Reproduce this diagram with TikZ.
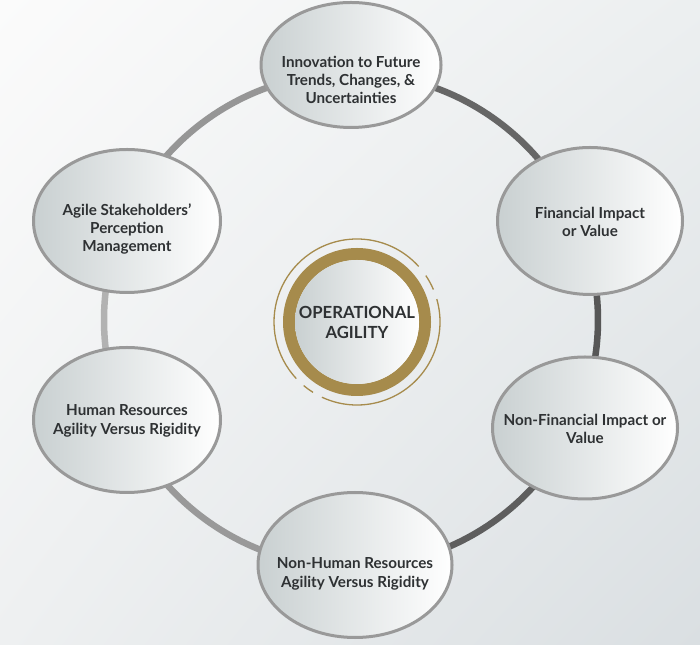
\documentclass[tikz,border=0pt]{standalone}
\usepackage{fontspec}
\setmainfont{Lato}
\usetikzlibrary{shapes.geometric,shadings}
\definecolor{gold}{HTML}{A68B4C}
\definecolor{txt}{HTML}{2E3133}
\definecolor{bubfill}{HTML}{C9D0D1}
\definecolor{bubedge}{HTML}{999999}
\definecolor{bgTL}{HTML}{FBFBFB}
\definecolor{bgTR}{HTML}{ECEFF0}
\definecolor{bgBL}{HTML}{EEF0F1}
\definecolor{bgBR}{HTML}{DADFE2}
\tikzset{
  bub/.style={ellipse, draw=bubedge, line width=3pt, left color=bubfill, right color=white, inner sep=0pt},
  bubtext/.style={align=center, inner sep=0pt, text=txt, font=\bfseries\fontsize{15.2}{18.4}\selectfont},
  ringseg/.style={line width=6.5pt},
  thingold/.style={draw=gold, line width=1.3pt}
}
\begin{document}
\begin{tikzpicture}[x=1pt,y=1pt]
\useasboundingbox (0,0) rectangle (700,644);
\shade[upper left=bgTL, upper right=bgTR, lower left=bgBL, lower right=bgBR] (0,0) rectangle (700,644);
% ring
\coordinate (rc) at (351,324);
\draw[ringseg, color=black!60] ([shift={(90:247)}]rc) arc[start angle=90, end angle=22.5, radius=247];
\draw[ringseg, color=black!66] ([shift={(22.5:247)}]rc) arc[start angle=22.5, end angle=-24.6, radius=247];
\draw[ringseg, color=black!63] ([shift={(-24.6:247)}]rc) arc[start angle=-24.6, end angle=-90, radius=247];
\draw[ringseg, color=black!40] ([shift={(-90:247)}]rc) arc[start angle=-90, end angle=-156, radius=247];
\draw[ringseg, color=black!30] ([shift={(204:247)}]rc) arc[start angle=204, end angle=156, radius=247];
\draw[ringseg, color=black!41] ([shift={(156:247)}]rc) arc[start angle=156, end angle=90, radius=247];
% bubbles
\node[bub, minimum width=180pt, minimum height=125pt] (top) at (351,579) {};
\node[bubtext] (topt) at ([yshift=-15]top.center) {Innovation to Future\\Trends, Changes, \&\\Uncertainties};
\node[bub, minimum width=185pt, minimum height=147pt] (fin) at (590,423) {};
\node[bubtext] (fint) at ([yshift=-1]fin.center) {Financial Impact\\or Value};
\node[bub, minimum width=185pt, minimum height=142pt] (nonfin) at (585,216) {};
\node[bubtext] (nonfint) at ([yshift=-1]nonfin.center) {Non-Financial Impact or\\Value};
\node[bub, minimum width=194pt, minimum height=145pt] (bot) at (355,79) {};
\node[bubtext] (bott) at ([yshift=-9]bot.center) {Non-Human Resources\\Agility Versus Rigidity};
\node[bub, minimum width=187pt, minimum height=145pt] (hum) at (127,224) {};
\node[bubtext] (humt) at ([yshift=-1]hum.center) {Human Resources\\Agility Versus Rigidity};
\node[bub, minimum width=187pt, minimum height=143pt] (agile) at (127,423) {};
\node[bubtext] (agilet) at ([yshift=-8]agile.center) {Agile Stakeholders’\\Perception\\Management};
% center
\coordinate (cc) at (357,322);
\draw[gold, line width=12pt] (cc) circle[radius=68];
\node[circle, minimum size=124pt, inner sep=0pt, left color=bubfill, right color=white, align=center, text=txt, font=\bfseries\fontsize{16.7}{20}\selectfont] (core) at (cc) {OPERATIONAL\\AGILITY};
\draw[thingold] ([shift={(42:83)}]cc) arc[start angle=42, end angle=223, radius=83];
\draw[thingold] ([shift={(23:83)}]cc) arc[start angle=23, end angle=34, radius=83];
\draw[thingold] ([shift={(230:83)}]cc) arc[start angle=230, end angle=238, radius=83];
\draw[thingold] ([shift={(245:83)}]cc) arc[start angle=245, end angle=376, radius=83];
\end{tikzpicture}
\end{document}
